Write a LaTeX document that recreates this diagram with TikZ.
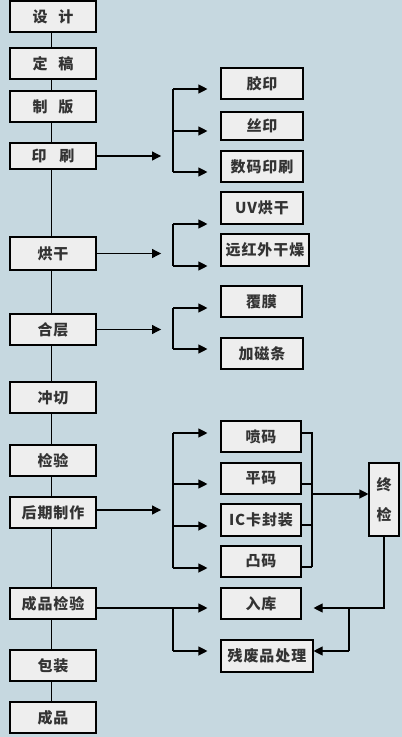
\documentclass[tikz,border=0pt]{standalone}
\usepackage{fontspec}
\newfontfamily\cjk{Noto Sans CJK SC}[LetterSpace=6]
\usetikzlibrary{arrows.meta}
\definecolor{bg}{HTML}{C6D8E0}
\definecolor{boxfill}{HTML}{EEEEEE}
\definecolor{txt}{HTML}{333333}
\tikzset{
  box/.style={draw=black, line width=1.1pt, fill=boxfill, text=txt,
    font=\cjk\bfseries\fontsize{15}{18}\selectfont, inner sep=0pt},
  lbox/.style={box, minimum width=86pt, minimum height=31pt},
  conn/.style={line width=1.1pt},
  arr/.style={line width=1.1pt, -{Triangle[length=9pt,width=9pt]}},
  brarr/.style={arr, shorten >=13pt},
}
\begin{document}
\begin{tikzpicture}[x=1pt,y=-1pt]
\fill[bg] (0,0) rectangle (402,737);
\useasboundingbox (0,0) rectangle (402,737);

% left column
\node[lbox] (sheji) at (53,16.5) {设\hspace{11pt}计};
\node[lbox] (dinggao) at (53,63.5) {定\hspace{11pt}稿};
\node[lbox] (zhiban) at (53,106.5) {制\hspace{11pt}版};
\node[lbox, minimum height=26pt] (yinshua) at (53,156) {印\hspace{13pt}刷};
\node[lbox, minimum height=33pt] (honggan) at (53,253.5) {烘干};
\node[lbox] (heceng) at (53,329.5) {合层};
\node[lbox] (chongqie) at (53,397.5) {冲切};
\node[lbox] (jianyan) at (53,460.5) {检验};
\node[lbox] (houqi) at (53,512.5) {后期制作};
\node[lbox] (cpjy) at (53,603.5) {成品检验};
\node[lbox] (baozhuang) at (53,665.5) {包装};
\node[lbox] (chengpin) at (53,717.5) {成品};

\foreach \a/\b in {sheji/dinggao, dinggao/zhiban, zhiban/yinshua, yinshua/honggan,
  honggan/heceng, heceng/chongqie, chongqie/jianyan, jianyan/houqi, houqi/cpjy,
  cpjy/baozhuang, baozhuang/chengpin}
  \draw[conn] ([xshift=-1.5pt]\a.south) -- ([xshift=-1.5pt]\b.north);

% right boxes
\node[box, minimum width=82pt, minimum height=31pt] (jiaoyin) at (262,83.5) {胶印};
\node[box, minimum width=82pt, minimum height=28pt] (siyin) at (262,126) {丝印};
\node[box, minimum width=82pt, minimum height=31pt] (shuma) at (262,166.5) {数码印刷};
\node[box, minimum width=82pt, minimum height=32pt] (uv) at (262,208) {UV烘干};
\node[box, minimum width=88pt, minimum height=32pt] (yuanhong) at (265,250) {远红外干燥};
\node[box, minimum width=81pt, minimum height=31pt] (fumo) at (261.5,301.5) {覆膜};
\node[box, minimum width=82pt, minimum height=31pt] (jiaci) at (262,353.5) {加磁条};
\node[box, minimum width=80pt, minimum height=31pt] (penma) at (261,436.5) {喷码};
\node[box, minimum width=80pt, minimum height=31pt] (pingma) at (261,478.5) {平码};
\node[box, minimum width=80pt, minimum height=32pt] (ic) at (261,520) {IC卡封装};
\node[box, minimum width=80pt, minimum height=31pt] (tuma) at (261,561.5) {凸码};
\node[box, minimum width=80pt, minimum height=31pt] (ruku) at (261,603.5) {入库};
\node[box, minimum width=92pt, minimum height=32pt] (canfei) at (267,656) {残废品处理};
\node[box, minimum width=30pt, minimum height=73pt, align=center,
  font=\cjk\bfseries\fontsize{15}{30}\selectfont] (zhongjian) at (384,499.5) {终\\检};

% main arrows
\draw[arr] (yinshua.east) -- ++(64.5,0);
\draw[arr] (honggan.east) -- ++(64.5,0);
\draw[arr] (heceng.east) -- ++(64.5,0);
\draw[arr] ([yshift=2.5pt]houqi.east) -- ++(64.5,0);
\draw[brarr] ([yshift=-4.5pt]cpjy.east) -- ([yshift=-4.5pt]ruku.west);

% branch group 1
\draw[conn] (173,89) -- (173,172);
\draw[brarr] (173,89) -- (jiaoyin.west |- 0,89);
\draw[brarr] (173,131) -- (siyin.west |- 0,131);
\draw[brarr] (173,172) -- (shuma.west |- 0,172);
% branch group 2
\draw[conn] (173,224) -- (173,266);
\draw[brarr] (173,224) -- (uv.west |- 0,224);
\draw[brarr] (173,266) -- (yuanhong.west |- 0,266);
% branch group 3
\draw[conn] (173,308) -- (173,349);
\draw[brarr] (173,308) -- (fumo.west |- 0,308);
\draw[brarr] (173,349) -- (jiaci.west |- 0,349);
% branch group 4
\draw[conn] (173,433) -- (173,568);
\draw[brarr] (173,433) -- (penma.west |- 0,433);
\draw[brarr] (173,484) -- (pingma.west |- 0,484);
\draw[brarr] (173,526) -- (ic.west |- 0,526);
\draw[brarr] (173,568) -- (tuma.west |- 0,568);
% branch group 5
\draw[conn] (173,608) -- (173,651);
\draw[brarr] (173,651) -- (canfei.west |- 0,651);

% collector to final inspection
\draw[conn] (penma.east |- 0,433) -- (312,433) -- (312,567);
\draw[conn] (pingma.east |- 0,484) -- (312,484);
\draw[conn] (ic.east |- 0,525) -- (312,525);
\draw[conn] (tuma.east |- 0,567) -- (312,567);
\draw[arr] (312,494) -- (zhongjian.west |- 0,494);

% final inspection outputs
\draw[arr, shorten >=12pt] (zhongjian.south) |- (ruku.east |- 0,608);
\draw[conn] (349,608) -- (349,651);
\draw[arr] (349,651) -- (canfei.east |- 0,651);
\end{tikzpicture}
\end{document}
